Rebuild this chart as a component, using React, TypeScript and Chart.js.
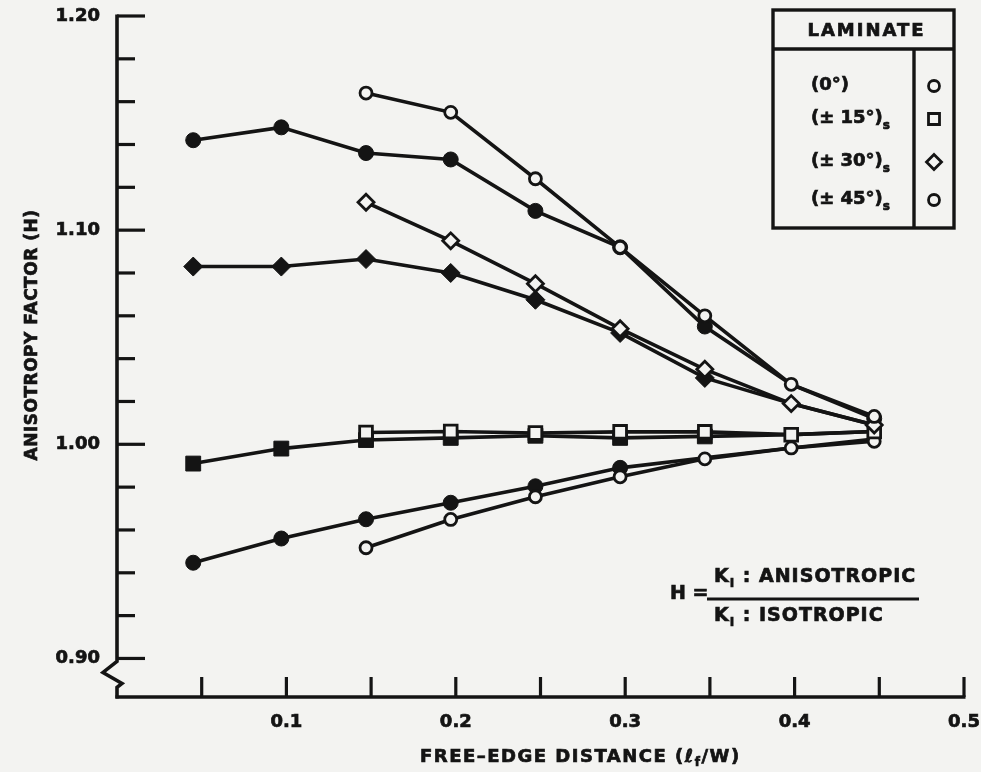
import React, { useEffect, useRef } from 'react';
import { Chart, registerables } from 'chart.js';

Chart.register(...registerables);

// ---------- data ----------
const xPositions = [0.045, 0.097, 0.147, 0.197, 0.247, 0.297, 0.347, 0.398, 0.447];

const circleUpperFilled = [1.142, 1.148, 1.136, 1.133, 1.109, 1.092, 1.055, 1.028, 1.012];
const circleUpperOpen = [null, null, 1.164, 1.155, 1.124, 1.092, 1.06, 1.028, 1.013];
const diamondFilled = [1.083, 1.083, 1.0865, 1.08, 1.0675, 1.052, 1.031, 1.019, 1.009];
const diamondOpen = [null, null, 1.113, 1.095, 1.075, 1.054, 1.035, 1.019, 1.009];
const squareFilled = [0.991, 0.998, 1.002, 1.003, 1.004, 1.003, 1.0037, 1.0045, 1.006];
const squareOpen = [null, null, 1.0055, 1.006, 1.0053, 1.0058, 1.0058, 1.0045, 1.006];
const circleLowerFilled = [0.9447, 0.956, 0.965, 0.9727, 0.9804, 0.989, 0.9937, 0.9983, 1.0025];
const circleLowerOpen = [null, null, 0.9517, 0.9649, 0.9755, 0.9848, 0.9932, 0.9983, 1.0014];

const yTickValues = [0.9, 0.92, 0.94, 0.96, 0.98, 1.0, 1.02, 1.04, 1.06, 1.08, 1.1, 1.12, 1.14, 1.16, 1.18, 1.2];
const yLabelValues = [0.9, 1.0, 1.1, 1.2];
const xTickValues = [0.05, 0.1, 0.15, 0.2, 0.25, 0.3, 0.35, 0.4, 0.45, 0.5];
const xLabelValues = [0.1, 0.2, 0.3, 0.4, 0.5];

const legendTitle = 'LAMINATE';
const legendLabels = ['(0°)', '(± 15°)', '(± 30°)', '(± 45°)'];
const legendSubscripts = ['', 's', 's', 's'];
const legendMarkers = ['circle', 'rect', 'rectRot', 'circle'];

const yTitle = 'ANISOTROPY FACTOR (H)';
const xTitleMain = 'FREE–EDGE DISTANCE (ℓ';
const xTitleSub = 'f';
const xTitleEnd = '/W)';
const formulaLeft = 'H =';
const formulaTop = ' : ANISOTROPIC';
const formulaBottom = ' : ISOTROPIC';

// ---------- styling ----------
const INK = '#141414';
const PAPER = '#f3f3f1';
const FONT = '"DejaVu Sans", "Liberation Sans", sans-serif';
const TEXT_STROKE = 0.7;

const toPoints = (vals: (number | null)[]) =>
  vals
    .map((v, i) => (v == null ? null : { x: xPositions[i], y: v }))
    .filter((p) => p !== null) as { x: number; y: number }[];

const near = (a: number, list: number[]) => list.some((l) => Math.abs(l - a) < 1e-6);

function heavyText(ctx: CanvasRenderingContext2D, text: string, x: number, y: number) {
  ctx.save();
  ctx.fillStyle = INK;
  ctx.fillText(text, x, y);
  ctx.lineWidth = TEXT_STROKE;
  ctx.strokeStyle = INK;
  ctx.strokeText(text, x, y);
  ctx.restore();
}

function drawRuns(
  ctx: CanvasRenderingContext2D,
  x: number,
  y: number,
  runs: { text: string; size: number; dy?: number }[]
) {
  let cx = x;
  for (const r of runs) {
    ctx.font = `bold ${r.size}px ${FONT}`;
    heavyText(ctx, r.text, cx, y + (r.dy || 0));
    cx += ctx.measureText(r.text).width;
  }
}

function drawMarker(ctx: CanvasRenderingContext2D, kind: string, x: number, y: number) {
  ctx.beginPath();
  if (kind === 'circle') {
    ctx.arc(x, y, 5.5, 0, Math.PI * 2);
  } else if (kind === 'rect') {
    ctx.rect(x - 5.5, y - 5.5, 11, 11);
  } else {
    ctx.moveTo(x, y - 7.5);
    ctx.lineTo(x + 7.5, y);
    ctx.lineTo(x, y + 7.5);
    ctx.lineTo(x - 7.5, y);
    ctx.closePath();
  }
  ctx.fillStyle = PAPER;
  ctx.fill();
  ctx.lineWidth = 2.8;
  ctx.strokeStyle = INK;
  ctx.stroke();
}

const decorPlugin = {
  id: 'decor',
  beforeDraw(chart: any) {
    const ctx = chart.ctx as CanvasRenderingContext2D;
    ctx.save();
    ctx.fillStyle = PAPER;
    ctx.fillRect(0, 0, chart.width, chart.height);
    ctx.restore();
  },
  beforeDatasetsDraw(chart: any) {
    const ctx = chart.ctx as CanvasRenderingContext2D;
    const xs = chart.scales.x;
    const ys = chart.scales.y;
    const area = chart.chartArea;
    const ax = area.left;
    const bottom = area.bottom;
    const yTop = ys.getPixelForValue(1.2);
    const yBreak = ys.getPixelForValue(0.9);
    ctx.save();
    ctx.strokeStyle = INK;
    ctx.lineCap = 'butt';
    ctx.lineJoin = 'miter';
    // y axis with break
    ctx.lineWidth = 3.6;
    ctx.beginPath();
    ctx.moveTo(ax, yTop - 1.5);
    ctx.lineTo(ax, yBreak + 3);
    ctx.lineTo(ax - 14, yBreak + 14);
    ctx.lineTo(ax + 5, yBreak + 25);
    ctx.lineTo(ax, yBreak + 29);
    ctx.lineTo(ax, bottom + 1.5);
    ctx.stroke();
    // x axis
    const xRight = xs.getPixelForValue(0.5);
    ctx.beginPath();
    ctx.moveTo(ax - 1.5, bottom);
    ctx.lineTo(xRight + 1.5, bottom);
    ctx.stroke();
    // y ticks + labels
    ctx.textBaseline = 'middle';
    for (const v of yTickValues) {
      const py = ys.getPixelForValue(v);
      const major = near(v, yLabelValues);
      ctx.lineWidth = 3.2;
      ctx.strokeStyle = INK;
      ctx.beginPath();
      ctx.moveTo(ax, py);
      ctx.lineTo(ax + (major ? 28 : 18), py);
      ctx.stroke();
      if (major) {
        ctx.textAlign = 'right';
        ctx.font = `bold 18px ${FONT}`;
        heavyText(ctx, v.toFixed(2), ax - 17, py);
      }
    }
    // x ticks + labels
    for (const v of xTickValues) {
      const px = xs.getPixelForValue(v);
      ctx.lineWidth = 3.2;
      ctx.strokeStyle = INK;
      ctx.beginPath();
      ctx.moveTo(px, bottom);
      ctx.lineTo(px, bottom - 20);
      ctx.stroke();
      if (near(v, xLabelValues)) {
        ctx.textAlign = 'center';
        ctx.font = `bold 18px ${FONT}`;
        heavyText(ctx, v.toFixed(1), px, bottom + 25);
      }
    }
    ctx.restore();
  },
  afterDraw(chart: any) {
    const ctx = chart.ctx as CanvasRenderingContext2D;
    ctx.save();
    ctx.fillStyle = INK;
    ctx.textBaseline = 'middle';

    // y title
    ctx.save();
    ctx.translate(33, 335);
    ctx.rotate(-Math.PI / 2);
    ctx.textAlign = 'center';
    ctx.font = `bold 17px ${FONT}`;
    (ctx as any).letterSpacing = '0.5px';
    heavyText(ctx, yTitle, 0, 0);
    ctx.restore();

    // x title
    ctx.textAlign = 'left';
    (ctx as any).letterSpacing = '1.5px';
    drawRuns(ctx, 420, 757, [
      { text: xTitleMain, size: 18 },
      { text: xTitleSub, size: 12, dy: 6 },
      { text: xTitleEnd, size: 18 },
    ]);

    // legend box
    (ctx as any).letterSpacing = '0px';
    const L = 773, T = 10, R = 954, B = 228, HY = 49, VX = 914;
    ctx.fillStyle = PAPER;
    ctx.fillRect(L, T, R - L, B - T);
    ctx.strokeStyle = INK;
    ctx.lineWidth = 3.4;
    ctx.strokeRect(L, T, R - L, B - T);
    ctx.beginPath();
    ctx.moveTo(L, HY);
    ctx.lineTo(R, HY);
    ctx.moveTo(VX, HY);
    ctx.lineTo(VX, B);
    ctx.stroke();
    ctx.textAlign = 'center';
    ctx.font = `bold 18px ${FONT}`;
    (ctx as any).letterSpacing = '2px';
    heavyText(ctx, legendTitle, (L + R) / 2 + 3, 31);
    (ctx as any).letterSpacing = '0px';
    ctx.textAlign = 'left';
    const rowY = [85, 118, 161, 199];
    legendLabels.forEach((lab, i) => {
      drawRuns(ctx, 811, rowY[i], [
        { text: lab, size: 18 },
        { text: legendSubscripts[i], size: 12, dy: 8 },
      ]);
      drawMarker(ctx, legendMarkers[i], 934, rowY[i] + 1);
    });

    // formula
    ctx.font = `bold 19px ${FONT}`;
    heavyText(ctx, formulaLeft, 670, 594);
    ctx.strokeStyle = INK;
    ctx.lineWidth = 2.8;
    ctx.beginPath();
    ctx.moveTo(707, 599);
    ctx.lineTo(919, 599);
    ctx.stroke();
    (ctx as any).letterSpacing = '1px';
    drawRuns(ctx, 714, 577, [
      { text: 'K', size: 19 },
      { text: 'I', size: 12, dy: 7 },
      { text: formulaTop, size: 19 },
    ]);
    drawRuns(ctx, 714, 616, [
      { text: 'K', size: 19 },
      { text: 'I', size: 12, dy: 7 },
      { text: formulaBottom, size: 19 },
    ]);
    ctx.restore();
  },
};

const lineBase = {
  borderColor: INK,
  borderWidth: 3.6,
  tension: 0,
  pointBorderColor: INK,
};

export default function App() {
  const canvasRef = useRef<HTMLCanvasElement | null>(null);

  useEffect(() => {
    if (!canvasRef.current) return;
    const openStyle = { pointBackgroundColor: PAPER, pointBorderWidth: 2.8 };
    const filledStyle = { pointBackgroundColor: INK, pointBorderWidth: 1 };
    const chart = new Chart(canvasRef.current, {
      type: 'line',
      data: {
        datasets: [
          { ...lineBase, ...openStyle, data: toPoints(circleUpperOpen), pointStyle: 'circle', pointRadius: 6 },
          { ...lineBase, ...openStyle, data: toPoints(diamondOpen), pointStyle: 'rectRot', pointRadius: 8 },
          { ...lineBase, ...openStyle, data: toPoints(squareOpen), pointStyle: 'rect', pointRadius: 9 },
          { ...lineBase, ...openStyle, data: toPoints(circleLowerOpen), pointStyle: 'circle', pointRadius: 6 },
          { ...lineBase, ...filledStyle, data: toPoints(circleUpperFilled), pointStyle: 'circle', pointRadius: [7.5, 7.5, 7.5, 7.5, 7.5, 7.5, 7.5, 0, 7.5] },
          { ...lineBase, ...filledStyle, data: toPoints(diamondFilled), pointStyle: 'rectRot', pointRadius: [9.5, 9.5, 9.5, 9.5, 9.5, 9.5, 9.5, 0, 0] },
          { ...lineBase, ...filledStyle, data: toPoints(squareFilled), pointStyle: 'rect', pointRadius: [10.5, 10.5, 10.5, 10.5, 10.5, 10.5, 10.5, 0, 0] },
          { ...lineBase, ...filledStyle, data: toPoints(circleLowerFilled), pointStyle: 'circle', pointRadius: [7.5, 7.5, 7.5, 7.5, 7.5, 7.5, 0, 0, 0] },
        ] as any,
      },
      options: {
        animation: false,
        responsive: true,
        maintainAspectRatio: false,
        events: [],
        layout: { padding: { top: 16, right: 17, left: 0, bottom: 0 } },
        plugins: { legend: { display: false }, tooltip: { enabled: false } },
        scales: {
          x: {
            type: 'linear',
            min: 0,
            max: 0.5,
            grid: { display: false },
            border: { display: false },
            ticks: { display: false },
            afterBuildTicks: (s: any) => {
              s.ticks = xTickValues.map((v) => ({ value: v }));
            },
            afterFit: (s: any) => {
              s.height = 75;
              s.paddingLeft = 0;
              s.paddingRight = 0;
            },
          },
          y: {
            type: 'linear',
            min: 0.882,
            max: 1.2,
            grid: { display: false },
            border: { display: false },
            ticks: { display: false },
            afterBuildTicks: (s: any) => {
              s.ticks = yTickValues.map((v) => ({ value: v }));
            },
            afterFit: (s: any) => {
              s.width = 117;
              s.paddingTop = 0;
              s.paddingBottom = 0;
            },
          },
        },
      } as any,
      plugins: [decorPlugin],
    });
    return () => chart.destroy();
  }, []);

  return (
    <div style={{ position: 'absolute', left: 0, top: 0, width: 981, height: 772 }}>
      <canvas ref={canvasRef} />
    </div>
  );
}
